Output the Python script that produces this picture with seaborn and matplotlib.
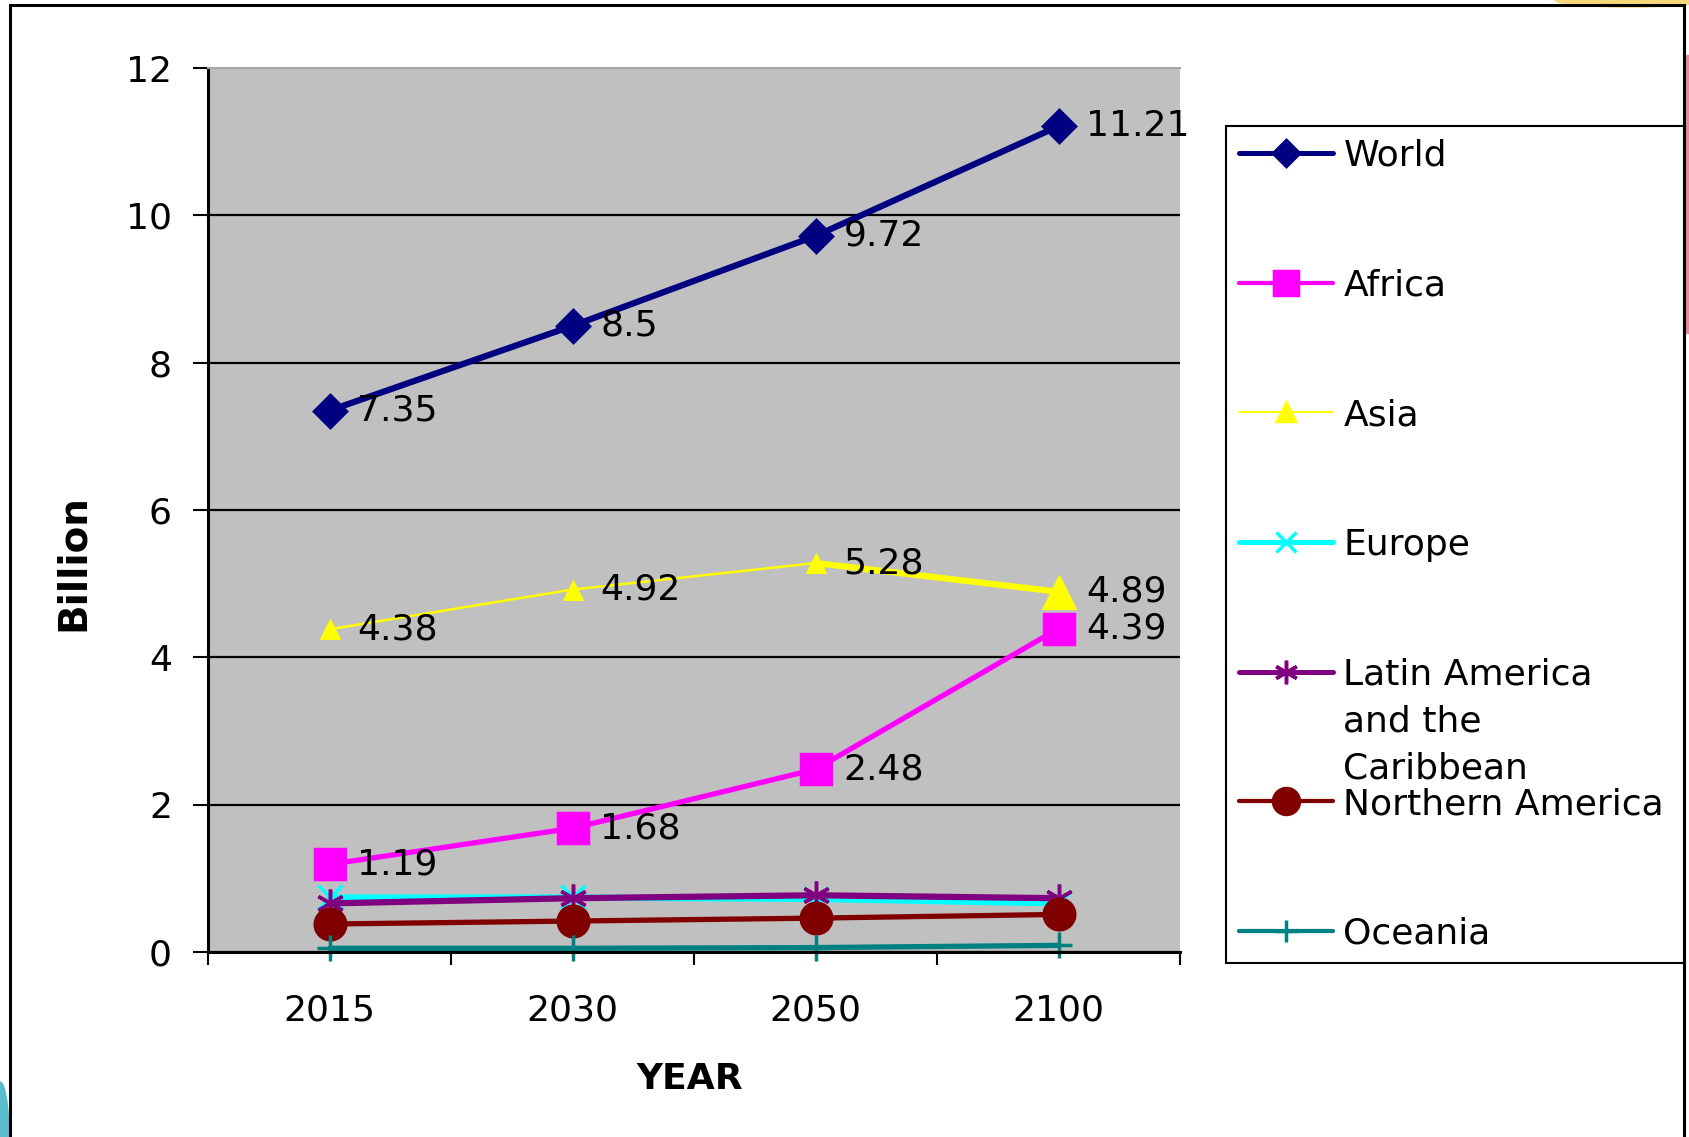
import matplotlib
matplotlib.use("Agg")
import matplotlib.pyplot as plt
import matplotlib.patches as mpatches
from matplotlib.lines import Line2D
import numpy as np
import seaborn as sns

# data (billion people)
years = ["2015", "2030", "2050", "2100"]
world = [7.35, 8.5, 9.72, 11.21]
africa = [1.19, 1.68, 2.48, 4.39]
asia = [4.38, 4.92, 5.28, 4.89]
europe = [0.74, 0.74, 0.72, 0.66]
latin_america = [0.66, 0.73, 0.77, 0.73]
northern_america = [0.38, 0.42, 0.46, 0.51]
oceania = [0.05, 0.05, 0.06, 0.09]

names = ["World", "Africa", "Asia", "Europe", "Latin America",
         "Northern America", "Oceania"]
values = [world, africa, asia, europe, latin_america, northern_america, oceania]
labelled = ["World", "Africa", "Asia"]

# styles: colour, marker, marker size, line width
styles = {
    "World": ("#000080", "D", 16, 4.5),
    "Africa": ("#ff00ff", "s", 21, 3.8),
    "Asia": ("#ffff00", "^", 15, 1.8),
    "Europe": ("#00ffff", "x", 17, 4.5),
    "Latin America": ("#800080", (6, 2, 0), 20, 4.5),
    "Northern America": ("#800000", "o", 22, 3.8),
    "Oceania": ("#008080", "+", 19, 3.8),
}

sns.set_theme(style="white")
plt.rcParams["font.family"] = ["DejaVu Sans"]

W, H = 1689, 1137
fig = plt.figure(figsize=(W / 100, H / 100), dpi=100)
ax = fig.add_axes([208 / W, 1 - 952 / H, 972 / W, 884 / H])
ax.set_facecolor("#c0c0c0")

x = np.arange(len(years))

for name, vals in zip(names, values):
    c, m, ms, lw = styles[name]
    if name == "Asia":
        # thin line with small triangles, last segment drawn heavier
        sns.lineplot(x=x, y=vals, ax=ax, color=c, linewidth=lw, clip_on=False)
        sns.lineplot(x=x[:-1], y=vals[:-1], ax=ax, color=c, linewidth=0,
                     marker=m, markersize=ms, markeredgecolor=c, clip_on=False)
        sns.lineplot(x=x[-2:], y=vals[-2:], ax=ax, color=c, linewidth=4.5, clip_on=False)
        sns.lineplot(x=x[-1:], y=vals[-1:], ax=ax, color=c, linewidth=0,
                     marker=m, markersize=25, markeredgecolor=c, clip_on=False)
    else:
        sns.lineplot(x=x, y=vals, ax=ax, color=c, linewidth=lw, marker=m,
                     markersize=ms, markeredgecolor=c, markerfacecolor=c,
                     markeredgewidth=2.5, clip_on=False)
    if name in labelled:
        for xi, v in zip(x, vals):
            ax.annotate(f"{v:g}", (xi, v), xytext=(20, 0), textcoords="offset points",
                        va="center", ha="left", fontsize=26, color="black", zorder=5)

ax.set_xlim(-0.5, len(years) - 0.5)
ax.set_ylim(0, 12)
ax.set_yticks(range(0, 13, 2))
ax.set_xticks(x)
ax.set_xticklabels(years)
ax.set_xticks(np.arange(len(years) + 1) - 0.5, minor=True)

ax.tick_params(axis="x", which="major", bottom=True, length=0, pad=30, labelsize=26,
               labelcolor="black")
ax.tick_params(axis="x", which="minor", bottom=True, length=9, width=1.5,
               direction="out", color="black")
ax.tick_params(axis="y", left=True, length=11, width=1.5, direction="out", pad=15,
               labelsize=26, color="black", labelcolor="black")

ax.yaxis.grid(True, color="black", linewidth=1.6)
ax.get_ygridlines()[-1].set_visible(False)
ax.set_axisbelow(True)

for side in ["left", "bottom"]:
    ax.spines[side].set_color("black")
    ax.spines[side].set_linewidth(2.2)
ax.spines["top"].set_color("#a8a8a8")
ax.spines["top"].set_linewidth(1.5)
ax.spines["right"].set_visible(False)

ax.set_xlabel("YEAR", fontsize=26, fontweight="bold", color="black")
ax.set_ylabel("Billion", fontsize=28, fontweight="bold", color="black")
ax.xaxis.set_label_coords(0.496, -0.124)
ax.yaxis.set_label_coords(-0.119, 0.44)

if ax.get_legend() is not None:
    ax.get_legend().remove()

handles = []
for name in names:
    c, m, ms, lw = styles[name]
    handles.append(Line2D([0], [0], color=c, marker=m, markersize=ms * 0.85, linewidth=lw * 0.8,
                          markeredgecolor=c, markerfacecolor=c, markeredgewidth=2.5))
leg = fig.legend(handles, names, loc="upper left",
                 bbox_to_anchor=(1226 / W, 1 - 947 / H, (1684 - 1226) / W, (947 - 126) / H),
                 mode="expand", borderaxespad=0, borderpad=0.35, labelspacing=2.65,
                 handlelength=2.6, handletextpad=0.3, fontsize=26, frameon=True,
                 fancybox=False, framealpha=1)
leg.get_frame().set_edgecolor("black")
leg.get_frame().set_linewidth(1.5)
for t in leg.get_texts():
    t.set_color("black")

# slide decorations and outer border
fig.patches.append(mpatches.Ellipse((0, 0), 18 / W, 110 / H, transform=fig.transFigure,
                                    color="#5bbccb", zorder=0))
fig.patches.append(mpatches.Ellipse((1630 / W, 1), 150 / W, 14 / H, transform=fig.transFigure,
                                    color="#f6d87a", zorder=0))
fig.patches.append(mpatches.Rectangle((1686 / W, 1 - 333 / H), 3 / W, 278 / H,
                                      transform=fig.transFigure, color="#e88a9a", zorder=0))
fig.patches.append(mpatches.Rectangle((10 / W, -0.1), 1674 / W, 1.1 - 5 / H, fill=False,
                                      edgecolor="black", linewidth=2.2,
                                      transform=fig.transFigure, zorder=1))

# wrap the long legend label onto extra lines without changing row spacing
fig.canvas.draw()
la_text = leg.get_texts()[names.index("Latin America")]
bb = la_text.get_window_extent()
cy = (bb.y0 + bb.y1) / 2
for k, line in enumerate(["and the", "Caribbean"], start=1):
    fig.text(bb.x0 / W, (cy - 47 * k) / H, line, fontsize=26, color="black",
             ha="left", va="center", zorder=10)

fig.savefig("out.png", dpi=100)
